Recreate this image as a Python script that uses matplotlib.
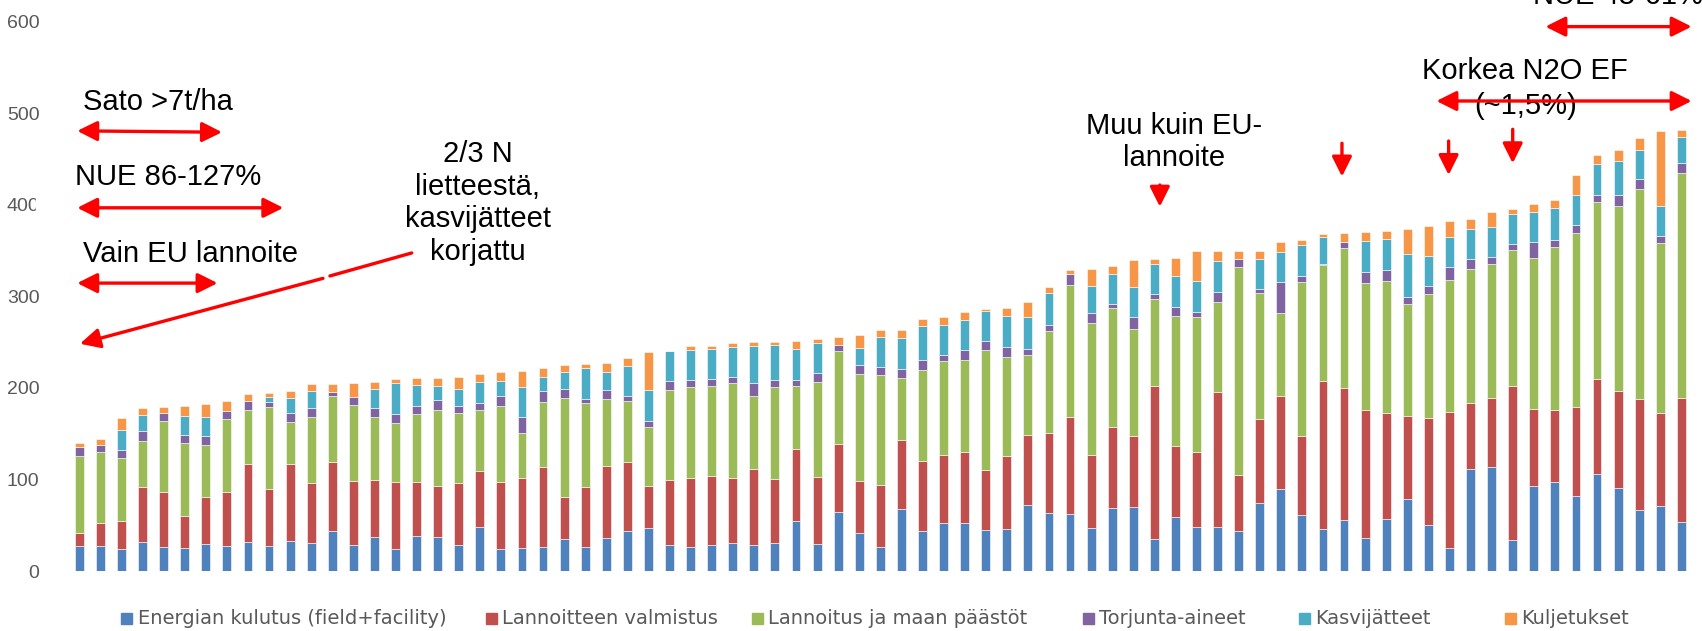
import matplotlib.pyplot as plt
from matplotlib.patches import Rectangle

plt.rcParams['font.family'] = ['Liberation Sans', 'DejaVu Sans']

# --- DATA (kg CO2e / ha per farm, stacked by source) ---
series_labels = ['Energian kulutus (field+facility)', 'Lannoitteen valmistus',
                 'Lannoitus ja maan päästöt', 'Torjunta-aineet',
                 'Kasvijätteet', 'Kuljetukset']
series_colors = ['#4F81BD', '#C0504D', '#9BBB59', '#8064A2', '#4BACC6', '#F79646']

energia = [27.6, 27, 24, 31.7, 26.5, 25.5, 29, 27, 31.3, 27,
           32.8, 30.6, 43.3, 28.4, 36.7, 24.4, 38.6, 36.7, 28.8, 47.7,
           24.4, 25.1, 25.8, 34.9, 26.6, 36, 44, 46.6, 28, 26.2,
           28.4, 30.9, 28.8, 30.9, 55, 29.1, 64.8, 41.8, 25.8, 68,
           43.7, 52, 52, 44.4, 45.5, 72.4, 63, 62.2, 46.6, 68.8,
           69.5, 34.6, 58.6, 48.4, 47.7, 43.3, 74.6, 89.5, 61.5, 45.9,
           55.7, 36, 56.4, 78.6, 50.2, 24.7, 111.4, 113.5, 33.8, 92.8,
           97.2, 82.2, 105.5, 90.2, 66.2, 70.6, 53.5]
lannoite_valm = [14.4, 25, 31, 60.3, 60.1, 34.9, 51.4, 59.2, 85.7, 62.5,
                 84.2, 65.1, 76.1, 69.9, 63, 73.1, 58.9, 56.1, 66.9, 61.8,
                 73.1, 76.1, 87.7, 46.2, 65.5, 79, 75.4, 46.6, 71.7, 75,
                 75.3, 71, 82.6, 69.5, 78.2, 73.9, 74.2, 56.8, 68.1, 75,
                 76, 75, 77.5, 66.2, 80.4, 75.7, 87.3, 106.3, 80.4, 88.8,
                 78.2, 167.7, 78.2, 81.9, 147.3, 61.9, 91, 101.9, 86.2, 161.2,
                 144.4, 139.4, 116.5, 91, 117.2, 148.5, 71.6, 75, 168.5, 84.4,
                 78.9, 96.8, 104.5, 106.7, 121.6, 101.5, 135]
lannoitus_maa = [84, 77.5, 68, 50, 77.2, 79.3, 57.2, 79.8, 58.8, 89.2,
                 46, 72, 71.3, 83.3, 68.3, 64.5, 73.5, 82.6, 76.8, 66.3,
                 82.5, 49.8, 71, 108.1, 90.9, 72.8, 66.2, 64.4, 97.5, 99.7,
                 98.6, 103, 80, 100.1, 69.1, 103.3, 101.5, 116.1, 120.1, 68,
                 100.1, 102.3, 100.8, 130.7, 107.4, 87.7, 111.4, 143.7, 143.7, 129.9,
                 116.9, 94.7, 141.9, 146.6, 99, 227, 137.9, 90.6, 167.4, 127,
                 152.5, 138.6, 143.7, 121.9, 135.4, 144.5, 147.1, 147, 148.1, 164.5,
                 177.6, 190, 193.2, 201.6, 228.9, 186, 246]
torjunta = [9, 8.5, 9, 10.5, 8.2, 9.3, 9.8, 9, 10.2, 6.2,
            9.8, 10.6, 5.1, 8.7, 10.3, 9.8, 9, 10.9, 7.5, 7.6,
            11.4, 17.5, 12.4, 9.1, 5.1, 10.2, 5.1, 5.8, 10.2, 7.2,
            7.7, 6.5, 14.2, 7.6, 6.6, 10.2, 6.2, 10.6, 8.7, 9.9,
            10.2, 6.5, 11, 9.4, 11.6, 6.2, 7.2, 12, 10.6, 3.6,
            12.3, 5.4, 9.9, 6.2, 11, 8.8, 4.7, 33.5, 7.3, 0.9,
            6.6, 12, 12.4, 8, 8, 14.2, 10.1, 6.9, 6.2, 17.5,
            8, 8.4, 7.3, 12.3, 10.9, 7.3, 10.5]
kasvijatteet = [0, 0, 22, 18.2, 0, 19.8, 20.6, 0, 0, 5.4,
                16.1, 18.2, 0, 0, 20.4, 33.4, 23, 15.3, 18.7, 23.3,
                16, 32.7, 15.3, 18.6, 33.9, 19.6, 33.5, 33.8, 32.4, 33.5,
                32.7, 33.1, 39.7, 39, 33.1, 32.8, 0, 17.7, 33.1, 33.5,
                37.8, 33.1, 33.1, 33.5, 33.8, 34.9, 35, 0, 30.2, 33.5,
                33.1, 33.1, 33.8, 33.1, 33.1, 0, 32.8, 33.1, 33.1, 29.3,
                0, 33.9, 33.1, 46.9, 33.4, 32.7, 32.8, 32.8, 33.5, 33.1,
                34.2, 33.1, 33.5, 36.8, 32, 33.4, 28.4]
kuljetukset = [5, 6, 13, 7.3, 6.7, 11.7, 14.3, 10.6, 7.6, 4.4,
               7.6, 7.5, 8.2, 14.6, 8, 4, 7.3, 8.7, 12.7, 8.7,
               9.8, 17.1, 9.4, 8, 4, 9.4, 8, 41.5, 0.5, 4,
               3.3, 4, 4.7, 2.9, 9, 3.6, 8.8, 14.3, 6.9, 9.1,
               6.9, 8.4, 8, 1.8, 8.4, 16.4, 6.1, 4.8, 18.5, 8,
               29.5, 4.7, 18.9, 32.8, 11.2, 8.3, 8.3, 10.6, 6.2, 4,
               9.4, 9.8, 8.7, 27, 32.4, 17.5, 11.3, 17.1, 5.1, 8.4,
               9.1, 21.4, 10.5, 12, 13.5, 81.9, 8.4]

y_ticks = [0, 100, 200, 300, 400, 500, 600]

series = [energia, lannoite_valm, lannoitus_maa, torjunta, kasvijatteet, kuljetukset]

W, H = 1702, 631
fig = plt.figure(figsize=(W / 100, H / 100), dpi=100)
ax = fig.add_axes([45 / W, 60 / H, (W - 45) / W, 549.6 / H])

x = list(range(len(energia)))
bottom = [0.0] * len(x)
for vals, col in zip(series, series_colors):
    ax.bar(x, vals, width=0.42, bottom=bottom, color=col,
           edgecolor='white', linewidth=0.4)
    bottom = [b + v for b, v in zip(bottom, vals)]

ax.set_xlim(-1.627, 76.98)
ax.set_ylim(0, 600)
ax.set_yticks(y_ticks)
ax.tick_params(axis='y', length=0, pad=4, labelsize=14, labelcolor='#595959')
ax.set_xticks([])
for s in ax.spines.values():
    s.set_visible(False)

# the "400" label is partly covered by a text box in the original
fig.patches.append(Rectangle((35.5 / W, (H - 220) / H), 9 / W, 26 / H,
                             transform=fig.transFigure, color='white', zorder=5))

# --- legend, laid out by hand along the bottom ---
sq_x = [127, 491, 757, 1088, 1304, 1510]
for lab, col, sx in zip(series_labels, series_colors, sq_x):
    fig.patches.append(Rectangle(((sx - 5.5) / W, 7 / H), 11 / W, 11 / H,
                                 transform=fig.transFigure, color=col))
    fig.text((sx + 11) / W, 12 / H, lab, fontsize=14, color='#595959',
             ha='left', va='center', family=['DejaVu Sans'])

# --- annotations ---
RED = 'red'
FS = 21


def arrow(p_from, p_to, style='-|>'):
    ax.annotate('', xy=p_to, xytext=p_from, annotation_clip=False,
                arrowprops=dict(arrowstyle=style + ',head_length=0.6,head_width=0.3',
                                color=RED, lw=2.4, shrinkA=0, shrinkB=0,
                                mutation_scale=20))


both = '<|-|>'
ax.text(0.18, 503.3, 'Sato >7t/ha', fontsize=FS, va='baseline')
arrow((-0.1, 480.5), (6.77, 479.0), both)
ax.text(-0.19, 421.4, 'NUE 86-127%', fontsize=FS, va='baseline')
arrow((-0.1, 396.5), (9.68, 396.5), both)
ax.text(0.18, 337.3, 'Vain EU lannoite', fontsize=FS, va='baseline')
arrow((-0.1, 314.3), (6.56, 314.3), both)

ax.text(18.9, 401.7, '2/3 N\nlietteestä,\nkasvijätteet\nkorjattu', fontsize=FS,
        ha='center', va='center', linespacing=1.2)
ax.annotate('', xy=(11.89, 322.1), xytext=(15.77, 347.2), annotation_clip=False,
            arrowprops=dict(arrowstyle='-', color=RED, lw=2.4, shrinkA=0, shrinkB=0))
arrow((11.56, 319.5), (0.03, 248.1))

ax.text(51.93, 468.3, 'Muu kuin EU-\nlannoite', fontsize=FS,
        ha='center', va='center', linespacing=1.2)
arrow((51.26, 421.4), (51.26, 397.7))
arrow((59.9, 467.0), (59.9, 430.6))
arrow((64.96, 469.4), (64.96, 432.3))
arrow((68.0, 482.2), (68.0, 445.1))

ax.text(68.6, 527, 'Korkea N2O EF\n(~1,5%)', fontsize=FS,
        ha='center', va='center', linespacing=1.3)
arrow((64.38, 513.1), (76.49, 513.1), both)

# cut off by the top edge, as in the original
ax.text(68.96, 618.5, 'NUE 45-61%', fontsize=FS, va='baseline')
arrow((69.55, 594.3), (76.49, 594.3), both)

fig.savefig('out.png', dpi=100)
